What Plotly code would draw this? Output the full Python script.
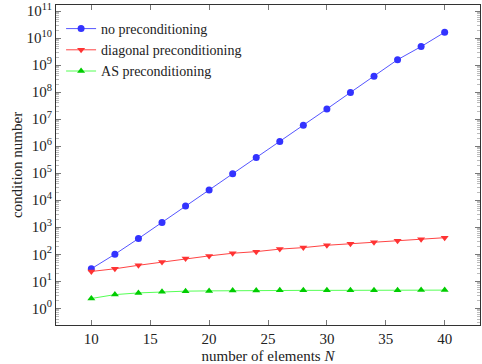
import plotly.graph_objects as go

# number of elements
n_elems = [10, 12, 14, 16, 18, 20, 22, 24, 26, 28, 30, 32, 34, 36, 38, 40]

# condition numbers
cond_none = [29, 100, 380, 1500, 6100, 2.4e4, 9.5e4, 3.8e5, 1.5e6, 6.0e6,
             2.4e7, 9.8e7, 3.9e8, 1.6e9, 4.9e9, 1.66e10]
cond_diag = [23, 29, 39, 52, 69, 87, 109, 125, 155, 176, 215, 246, 277, 318, 360, 410]
cond_as = [2.3, 3.2, 3.7, 4.1, 4.3, 4.4, 4.5, 4.5, 4.6, 4.6, 4.6, 4.6, 4.65, 4.65, 4.7, 4.7]

x_ticks = [10, 15, 20, 25, 30, 35, 40]
y_exps = list(range(0, 12))

font = "Liberation Serif"

y_tickvals = [10.0 ** e for e in y_exps]
y_ticktext = ["10<sup>%d</sup>" % e for e in y_exps]
y_minor = [k * 10.0 ** e for e in range(-1, 12) for k in range(2, 10)]

fig = go.Figure()
fig.add_trace(go.Scatter(x=n_elems, y=cond_none, mode="lines+markers",
                         name="no preconditioning",
                         line=dict(color="#5555ff", width=1),
                         marker=dict(symbol="circle", size=7, color="#3333ff")))
fig.add_trace(go.Scatter(x=n_elems, y=cond_diag, mode="lines+markers",
                         name="diagonal preconditioning",
                         line=dict(color="#ff4444", width=1),
                         marker=dict(symbol="triangle-down", size=7, color="#ff3333")))
fig.add_trace(go.Scatter(x=n_elems, y=cond_as, mode="lines+markers",
                         name="AS preconditioning",
                         line=dict(color="#55ff55", width=1),
                         marker=dict(symbol="triangle-up", size=7, color="#00cc00")))

axis_common = dict(showline=True, linecolor="#333333", linewidth=1.2, mirror="ticks",
                   ticks="inside", ticklen=5, tickcolor="#777777", tickwidth=1,
                   showgrid=False, zeroline=False, automargin=False,
                   ticklabeloverflow="allow",
                   tickfont=dict(family=font, size=15, color="#222"))

fig.update_xaxes(range=[7, 43], tickvals=x_ticks, ticklabelstandoff=0,
                 title=dict(text="number of elements <i>N</i>",
                            font=dict(family=font, size=15, color="#222"), standoff=4),
                 **axis_common)
fig.update_yaxes(type="log", range=[-0.62, 11.23], tickvals=y_tickvals, ticktext=y_ticktext,
                 minor=dict(ticks="inside", ticklen=3, tickcolor="#bbbbbb", tickvals=y_minor),
                 title=dict(text="condition number",
                            font=dict(family=font, size=15, color="#222"), standoff=0),
                 **axis_common)

fig.update_layout(
    width=482, height=364,
    margin=dict(l=56, r=2, t=5, b=39),
    plot_bgcolor="white", paper_bgcolor="white",
    font=dict(family=font, size=15, color="#222"),
    legend=dict(x=0.012, y=0.975, xanchor="left", yanchor="top",
                bgcolor="rgba(255,255,255,0)", font=dict(family=font, size=14),
                tracegroupgap=0, itemwidth=30),
)

fig.write_html("out.html", config={"displayModeBar": False},
               post_script="document.body.style.margin='0';")
